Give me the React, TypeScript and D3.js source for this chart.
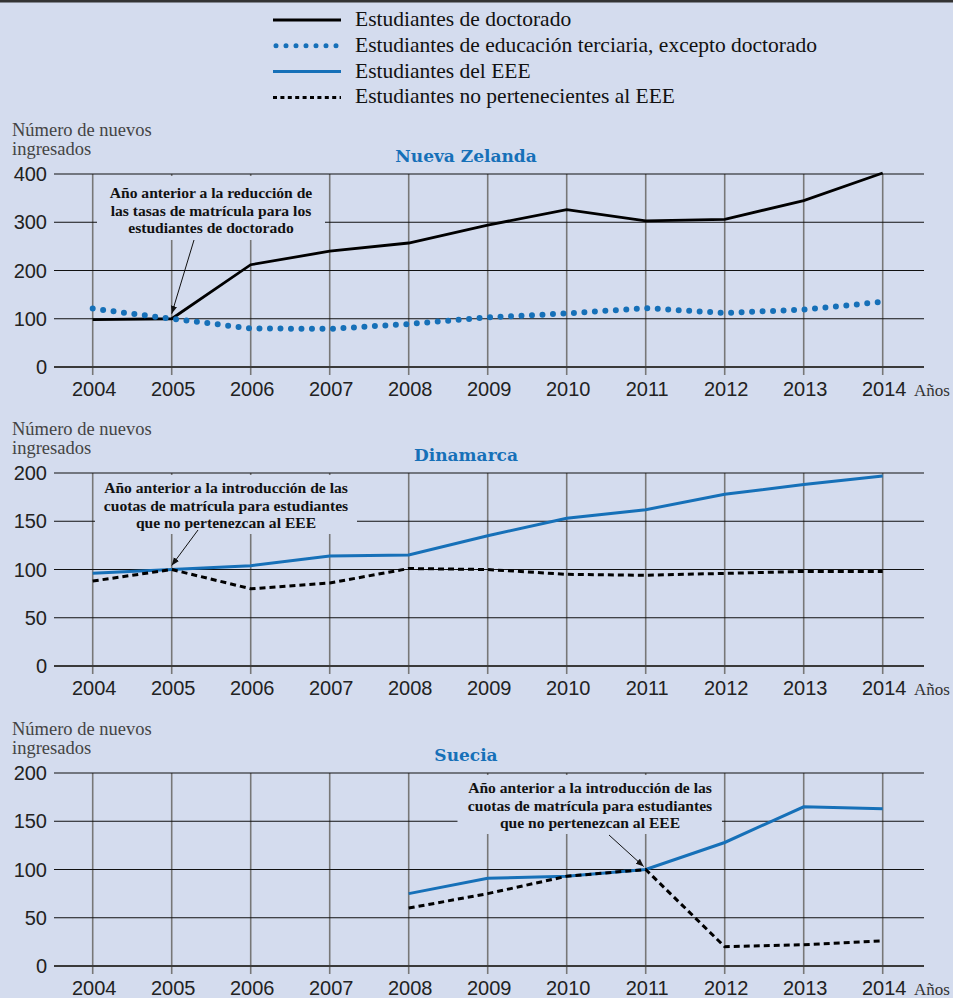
import * as d3 from "d3";

// Años (categorías del eje x)
const years = [2004, 2005, 2006, 2007, 2008, 2009, 2010, 2011, 2012, 2013, 2014];

// Nueva Zelanda
const nzDoctorado = [98, 100, 212, 240, 257, 294, 326, 303, 306, 345, 402];
const nzTerciaria = [121, 100, 80, 79, 89, 103, 111, 122, 112, 119, 135];

// Dinamarca
const dkEEE = [96, 100, 104, 114, 115, 135, 153, 162, 178, 188, 197];
const dkNoEEE = [88, 100, 80, 86, 101, 100, 95, 94, 96, 98, 98];

// Suecia (sin datos 2004-2007)
const seEEE = [null, null, null, null, 75, 91, 93, 100, 128, 165, 163];
const seNoEEE = [null, null, null, null, 60, 75, 93, 100, 20, 22, 26];

const nzTicks = [0, 100, 200, 300, 400];
const dkTicks = [0, 50, 100, 150, 200];

const legendItems = [
  { key: "doc", label: "Estudiantes de doctorado" },
  { key: "ter", label: "Estudiantes de educación terciaria, excepto doctorado" },
  { key: "eee", label: "Estudiantes del EEE" },
  { key: "noeee", label: "Estudiantes no pertenecientes al EEE" },
];

const BG = "#d4dcee";
const BLUE = "#1670b8";
const SERIF = "'Liberation Serif', 'DejaVu Serif', serif";
const SANS = "'Liberation Sans', Arial, sans-serif";

const styles: Record<string, any> = {
  doc: { stroke: "#000", strokeWidth: 2.8 },
  ter: { stroke: BLUE, strokeWidth: 6, strokeDasharray: "0 10.5", strokeLinecap: "round" },
  eee: { stroke: BLUE, strokeWidth: 3 },
  noeee: { stroke: "#000", strokeWidth: 3, strokeDasharray: "6 4" },
};

const x = d3.scaleLinear().domain([2004, 2014]).range([92.7, 882.7]);
const PLOT_L = 54;
const PLOT_R = 924;
const PLOT_H = 193;

type Note = {
  lines: string[];
  box: [number, number, number]; // x0, x1, bottom offset
  firstBase: number;
  cx: number;
  from: [number, number];
  year: number;
  value: number;
  dx: number;
  dy: number;
};

function Panel({
  top,
  title,
  ticks,
  series,
  note,
}: {
  top: number;
  title: string;
  ticks: number[];
  series: { key: string; values: (number | null)[] }[];
  note: Note;
}) {
  const bottom = top + PLOT_H;
  const y = d3.scaleLinear().domain([0, ticks[ticks.length - 1]]).range([bottom, top]);
  const line = d3
    .line<number | null>()
    .defined((d) => d != null)
    .x((_, i) => x(years[i]))
    .y((d) => y(d as number));

  return (
    <g>
      <text x={12} y={top - 38} fontFamily={SERIF} fontSize={18.5} fill="#444">
        Número de nuevos
      </text>
      <text x={12} y={top - 19} fontFamily={SERIF} fontSize={18.5} fill="#444">
        ingresados
      </text>
      <text x={466} y={top - 12} textAnchor="middle" fontFamily="'DejaVu Serif', serif" fontWeight="bold" fontSize={17} fill={BLUE}>
        {title}
      </text>

      {years.map((yr) => (
        <line key={yr} x1={x(yr)} x2={x(yr)} y1={top} y2={bottom + 8} stroke="#777" strokeWidth={1.6} />
      ))}
      {ticks.map((t) => (
        <line
          key={t}
          x1={PLOT_L}
          x2={PLOT_R}
          y1={y(t)}
          y2={y(t)}
          stroke={t === 0 ? "#3a3a3a" : "#111"}
          strokeWidth={t === 0 ? 2 : 1.1}
        />
      ))}
      {ticks.map((t) => (
        <text key={t} x={47} y={y(t) + 7} textAnchor="end" fontFamily={SANS} fontSize={20} fill="#222">
          {t}
        </text>
      ))}
      {years.map((yr) => (
        <text key={yr} x={x(yr) + 1.5} y={bottom + 29} textAnchor="middle" fontFamily={SANS} fontSize={20} fill="#222">
          {yr}
        </text>
      ))}
      <text x={914} y={bottom + 29} fontFamily={SERIF} fontSize={17} fill="#333">
        Años
      </text>

      {/* caja de la nota: tapa la rejilla */}
      <rect x={note.box[0]} y={top + 2} width={note.box[1] - note.box[0]} height={note.box[2] - 2} fill={BG} />
      {note.lines.map((l, i) => (
        <text
          key={i}
          x={note.cx}
          y={top + note.firstBase + i * 17.5}
          textAnchor="middle"
          fontFamily={SERIF}
          fontWeight="bold"
          fontSize={15.6}
          fill="#111"
        >
          {l}
        </text>
      ))}

      {series.map((s) => (
        <path key={s.key} d={line(s.values) || ""} fill="none" {...styles[s.key]} />
      ))}

      <line
        x1={note.from[0]}
        y1={top + note.from[1]}
        x2={x(note.year) + note.dx}
        y2={y(note.value) + note.dy}
        stroke="#111"
        strokeWidth={1}
        markerEnd="url(#arrow)"
      />
    </g>
  );
}

export default function App() {
  return (
    <svg
      width={953}
      height={998}
      style={{ position: "absolute", left: 0, top: 0, background: BG }}
    >
      <defs>
        <marker id="arrow" viewBox="0 0 10 10" refX={10} refY={5} markerWidth={8} markerHeight={8} orient="auto" markerUnits="userSpaceOnUse">
          <path d="M0,1 L10,5 L0,9 z" fill="#111" />
        </marker>
      </defs>
      <rect x={0} y={0} width={953} height={998} fill={BG} />
      <rect x={0} y={0} width={953} height={2.5} fill="#333" />

      {legendItems.map((it, i) => {
        const ly = 20 + i * 25.8;
        const st = { ...styles[it.key] };
        if (it.key === "ter") {
          st.strokeWidth = 5;
          st.strokeDasharray = "0 10";
        }
        if (it.key === "noeee") st.strokeDasharray = "4 3.4";
        return (
          <g key={it.key}>
            <line x1={it.key === "ter" ? 276 : 273} x2={341} y1={ly} y2={ly} {...st} />
            <text x={355} y={ly + 6} fontFamily={SERIF} fontSize={21.5} fill="#111">
              {it.label}
            </text>
          </g>
        );
      })}

      <Panel
        top={174}
        title="Nueva Zelanda"
        ticks={nzTicks}
        series={[
          { key: "doc", values: nzDoctorado },
          { key: "ter", values: nzTerciaria },
        ]}
        note={{
          lines: ["Año anterior a la reducción de", "las tasas de matrícula para los", "estudiantes de doctorado"],
          box: [97, 325, 66],
          firstBase: 24,
          cx: 211,
          from: [194, 66],
          year: 2005,
          value: 100,
          dx: 0,
          dy: -5,
        }}
      />
      <Panel
        top={473}
        title="Dinamarca"
        ticks={dkTicks}
        series={[
          { key: "eee", values: dkEEE },
          { key: "noeee", values: dkNoEEE },
        ]}
        note={{
          lines: ["Año anterior a la introducción de las", "cuotas de matrícula para estudiantes", "que no pertenezcan al EEE"],
          box: [95, 357, 61],
          firstBase: 20,
          cx: 226,
          from: [198, 57],
          year: 2005,
          value: 100,
          dx: 0,
          dy: -4,
        }}
      />
      <Panel
        top={773}
        title="Suecia"
        ticks={dkTicks}
        series={[
          { key: "eee", values: seEEE },
          { key: "noeee", values: seNoEEE },
        ]}
        note={{
          lines: ["Año anterior a la introducción de las", "cuotas de matrícula para estudiantes", "que no pertenezcan al EEE"],
          box: [457.5, 722, 61],
          firstBase: 20,
          cx: 590,
          from: [609, 62],
          year: 2011,
          value: 100,
          dx: -2,
          dy: -3,
        }}
      />
    </svg>
  );
}
